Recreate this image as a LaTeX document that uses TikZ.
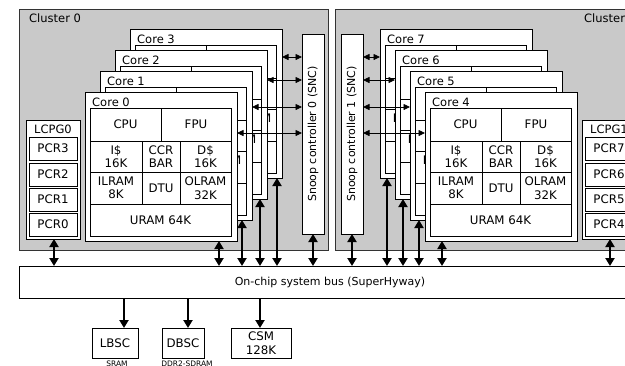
\documentclass[tikz,border=0pt]{standalone}
\usepackage{fontspec}
\setmainfont{DejaVu Sans}
\usetikzlibrary{arrows.meta,calc}
\tikzset{
  cluster/.style={draw=black!80, fill=gray!42, line width=0.8pt, anchor=north west, inner sep=0pt, outer sep=0pt},
  wbox/.style={draw=black, fill=white, line width=0.8pt, anchor=north west, inner sep=0pt, outer sep=0pt},
  cell/.style={draw=black, fill=white, line width=0.6pt, anchor=north west, inner sep=0pt, outer sep=0pt, align=center, font=\fontsize{11.8}{13.5}\selectfont},
  lbl/.style={font=\fontsize{11.5}{13.5}\selectfont, inner sep=0pt},
  snclbl/.style={font=\fontsize{11}{13.5}\selectfont, inner sep=0pt},
  tiny/.style={font=\fontsize{7.5}{9}\selectfont, inner sep=0pt},
  bigarrow/.style={line width=2.6pt, {Triangle[width=9pt,length=8pt]}-{Triangle[width=9pt,length=8pt]}},
  downarrow/.style={line width=2.6pt, -{Triangle[width=9pt,length=8pt]}},
  thinarrow/.style={line width=0.8pt, {Triangle[width=6pt,length=6.5pt]}-{Triangle[width=6pt,length=6.5pt]}},
}
\newcommand\mkcore[4]{%
  \node[wbox, minimum width=152pt, minimum height=149pt] (#1) at (#2,#3) {};
  \begin{scope}[shift={(#2,#3)}]
    \node[lbl, anchor=base west] (#1l) at (7,14.5) {Core #4};
    \begin{scope}[shift={(5,16)}]
      \node[cell, minimum width=71pt, minimum height=33pt] (#1cpu) at (0,0) {CPU};
      \node[cell, minimum width=70pt, minimum height=33pt] (#1fpu) at (71,0) {FPU};
      \node[cell, minimum width=52pt, minimum height=31pt] (#1ic) at (0,33) {I\$\\16K};
      \node[cell, minimum width=38pt, minimum height=31pt] (#1ccr) at (52,33) {CCR\\BAR};
      \node[cell, minimum width=51pt, minimum height=31pt] (#1dc) at (90,33) {D\$\\16K};
      \node[cell, minimum width=52pt, minimum height=32pt] (#1il) at (0,64) {ILRAM\\8K};
      \node[cell, minimum width=38pt, minimum height=32pt] (#1dtu) at (52,64) {DTU};
      \node[cell, minimum width=51pt, minimum height=32pt] (#1ol) at (90,64) {OLRAM\\32K};
      \node[cell, minimum width=141pt, minimum height=32pt] (#1ur) at (0,96) {URAM 64K};
    \end{scope}
  \end{scope}
}
\newcommand\mklcpg[7]{%
  \node[wbox, minimum width=54pt, minimum height=119pt] (#1) at (#2,#3) {};
  \begin{scope}[shift={(#2,#3)}]
    \node[lbl] (#1l) at (27,9) {LCPG#4};
    \node[cell, minimum width=48pt, minimum height=23pt] (#1a) at (3,17) {PCR#5};
    \node[cell, minimum width=48pt, minimum height=23pt] (#1b) at (3,43) {PCR#6};
    \node[cell, minimum width=48pt, minimum height=23pt] (#1c) at (3,68) {PCR#7};
  \end{scope}
}
\begin{document}
\begin{tikzpicture}[x=1pt,y=-1pt]
\useasboundingbox (0,0) rectangle (625,365);
\clip (0,0) rectangle (625,365);
% clusters
\node[cluster, minimum width=309pt, minimum height=241pt] (cl0) at (19,9) {};
\node[cluster, minimum width=320pt, minimum height=241pt] (cl1) at (335,9) {};
\node[lbl, anchor=west] (cl0l) at (29,18) {Cluster 0};
\node[lbl, anchor=west] (cl1l) at (584,18) {Cluster 1};
% LCPG blocks
\mklcpg{lc0}{26}{120}{0}{3}{2}{1}
\node[cell, minimum width=48pt, minimum height=23pt] (lc0d) at (29,213) {PCR0};
\mklcpg{lc1}{582}{120}{1}{7}{6}{5}
\node[cell, minimum width=48pt, minimum height=23pt] (lc1d) at (585,213) {PCR4};
% cores cluster 0
\mkcore{c3}{130}{29}{3}
\mkcore{c2}{115}{50}{2}
\mkcore{c1}{100}{71}{1}
\mkcore{c0}{85}{92}{0}
% cores cluster 1
\mkcore{c7}{380}{29}{7}
\mkcore{c6}{395}{50}{6}
\mkcore{c5}{410}{71}{5}
\mkcore{c4}{425}{92}{4}
% snoop controllers
\node[wbox, minimum width=22pt, minimum height=200pt] (snc0) at (302,34) {};
\node[snclbl, rotate=90] (snc0t) at (snc0.center) {Snoop controller 0 (SNC)};
\node[wbox, minimum width=22pt, minimum height=200pt] (snc1) at (341,34) {};
\node[snclbl, rotate=90] (snc1t) at (snc1.center) {Snoop controller 1 (SNC)};
% bus
\node[wbox, minimum width=622pt, minimum height=32pt, font=\fontsize{11}{13.5}\selectfont] (bus) at (19,266) {On-chip system bus (SuperHyway)};
% external blocks
\node[cell, minimum width=46pt, minimum height=30pt] (lbsc) at (92,328) {LBSC};
\node[cell, minimum width=42pt, minimum height=30pt] (dbsc) at (162,328) {DBSC};
\node[cell, minimum width=60pt, minimum height=30pt] (csm) at (231,328) {CSM\\128K};
\node[tiny, anchor=north] (sram) at (117,360.5) {SRAM};
\node[tiny, anchor=north] (ddr) at (187,360.5) {DDR2-SDRAM};
% horizontal snoop arrows
\coordinate (h3) at (0,57);
\coordinate (h2) at (0,80);
\coordinate (h1) at (0,107);
\coordinate (h0) at (0,133);
\draw[thinarrow] (c3.east |- h3) -- (snc0.west |- h3);
\draw[thinarrow] (c2.east |- h2) -- (snc0.west |- h2);
\draw[thinarrow] (c1.east |- h1) -- (snc0.west |- h1);
\draw[thinarrow] (c0.east |- h0) -- (snc0.west |- h0);
\draw[thinarrow] (snc1.east |- h3) -- (c7.west |- h3);
\draw[thinarrow] (snc1.east |- h2) -- (c6.west |- h2);
\draw[thinarrow] (snc1.east |- h1) -- (c5.west |- h1);
\draw[thinarrow] (snc1.east |- h0) -- (c4.west |- h0);
% vertical bus arrows
\coordinate (xl0) at (54,0);
\coordinate (x0) at (219,0);
\coordinate (x1) at (242,0);
\coordinate (x2) at (260,0);
\coordinate (x3) at (277,0);
\coordinate (x7) at (387,0);
\coordinate (x6) at (403,0);
\coordinate (x5) at (419,0);
\coordinate (x4) at (442,0);
\coordinate (xl1) at (610,0);
\draw[bigarrow] (lc0.south -| xl0) -- (bus.north -| xl0);
\draw[bigarrow] (c0.south -| x0) -- (bus.north -| x0);
\draw[bigarrow] (c1.south -| x1) -- (bus.north -| x1);
\draw[bigarrow] (c2.south -| x2) -- (bus.north -| x2);
\draw[bigarrow] (c3.south -| x3) -- (bus.north -| x3);
\draw[bigarrow] (snc0.south) -- (bus.north -| snc0.south);
\draw[bigarrow] (snc1.south) -- (bus.north -| snc1.south);
\draw[bigarrow] (c7.south -| x7) -- (bus.north -| x7);
\draw[bigarrow] (c6.south -| x6) -- (bus.north -| x6);
\draw[bigarrow] (c5.south -| x5) -- (bus.north -| x5);
\draw[bigarrow] (c4.south -| x4) -- (bus.north -| x4);
\draw[bigarrow] (lc1.south -| xl1) -- (bus.north -| xl1);
% downward arrows
\coordinate (xa) at (124,0);
\coordinate (xb) at (188,0);
\coordinate (xc) at (260,0);
\draw[downarrow] (bus.south -| xa) -- (lbsc.north -| xa);
\draw[downarrow] (bus.south -| xb) -- (dbsc.north -| xb);
\draw[downarrow] (bus.south -| xc) -- (csm.north -| xc);
\end{tikzpicture}
\end{document}
